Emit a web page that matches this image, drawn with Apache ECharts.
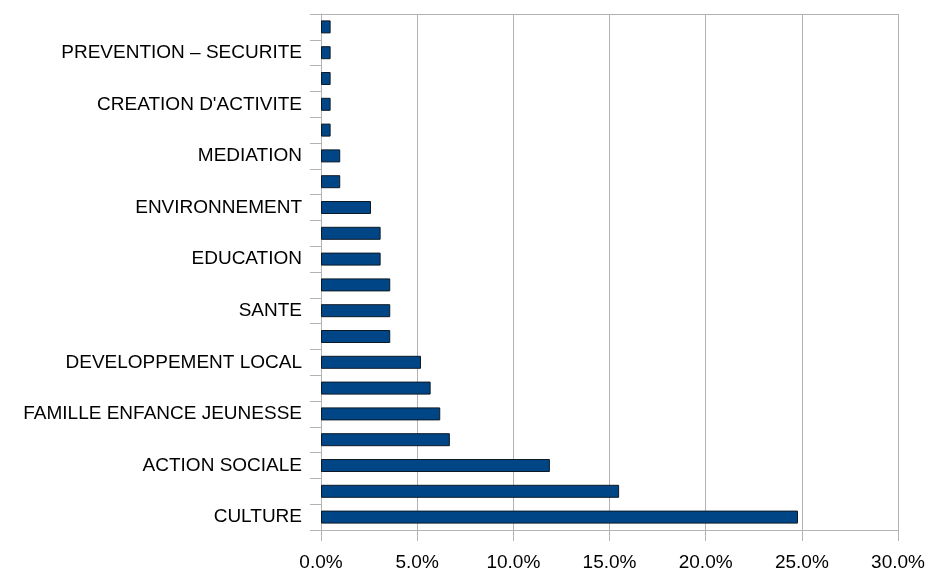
<!DOCTYPE html>
<html>
<head>
<meta charset="utf-8">
<script src="https://cdn.jsdelivr.net/npm/echarts@6/dist/echarts.min.js"></script>
<style>
html,body{margin:0;padding:0;background:#fff;}
#chart{width:929px;height:572px;}
</style>
</head>
<body>
<div id="chart"></div>
<script>
// Categories from bottom to top; unlabeled categories in the reference are empty strings
const categories = [
  "CULTURE", "", "ACTION SOCIALE", "", "FAMILLE ENFANCE JEUNESSE", "",
  "DEVELOPPEMENT LOCAL", "", "SANTE", "", "EDUCATION", "",
  "ENVIRONNEMENT", "", "MEDIATION", "", "CREATION D'ACTIVITE", "",
  "PREVENTION – SECURITE", ""
];
const values = [
  24.8, 15.5, 11.9, 6.7, 6.2, 5.7,
  5.2, 3.6, 3.6, 3.6, 3.1, 3.1,
  2.6, 1.0, 1.0, 0.5, 0.5, 0.5,
  0.5, 0.5
];
const xMin = 0, xMax = 30, xStep = 5;

const chart = echarts.init(document.getElementById('chart'), null, {renderer: 'canvas'});
const gray = '#b3b3b3';
const font = 'Liberation Sans, Arial, sans-serif';
chart.setOption({
  animation: false,
  backgroundColor: '#ffffff',
  textStyle: {fontFamily: font},
  grid: {left: 321, right: 31, top: 14, bottom: 42, containLabel: false},
  xAxis: [{
    type: 'value', min: xMin, max: xMax, interval: xStep, position: 'bottom',
    axisLine: {show: true, lineStyle: {color: gray, width: 1}},
    axisTick: {show: true, length: 11, lineStyle: {color: gray}},
    splitLine: {show: true, lineStyle: {color: gray, width: 1}},
    axisLabel: {
      color: '#000', fontSize: 19, margin: 23, fontFamily: font,
      formatter: v => v.toFixed(1) + '%'
    }
  }, {
    type: 'value', min: xMin, max: xMax, position: 'top',
    axisLine: {show: true, lineStyle: {color: gray, width: 1}},
    axisTick: {show: false}, axisLabel: {show: false}, splitLine: {show: false}
  }],
  yAxis: {
    type: 'category', data: categories,
    axisLine: {show: true, lineStyle: {color: gray, width: 1}},
    axisTick: {show: true, length: 11, lineStyle: {color: gray}},
    axisLabel: {interval: 0, color: '#000', fontSize: 19, margin: 19, fontFamily: font},
    splitLine: {show: false}
  },
  series: [{
    type: 'bar', data: values, xAxisIndex: 0, barWidth: 13,
    itemStyle: {color: '#004586', borderColor: '#0d1a26', borderWidth: 1},
    silent: true
  }]
});
</script>
</body>
</html>
